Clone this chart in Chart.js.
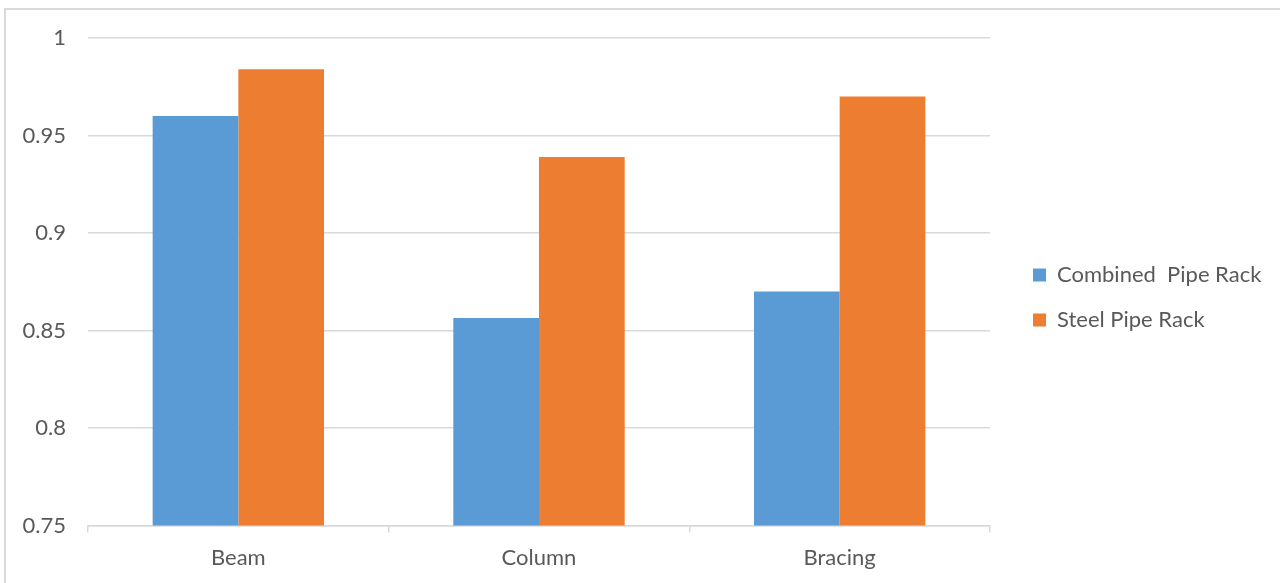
<!DOCTYPE html>
<html>
<head>
<meta charset="utf-8">
<script src="https://cdn.jsdelivr.net/npm/chart.js@4/dist/chart.umd.min.js"></script>
<style>
  html, body { margin: 0; padding: 0; background: #ffffff; }
  #wrap { position: relative; width: 1280px; height: 583px; overflow: hidden; }
  #frame { position: absolute; left: 4px; top: 8px; width: 1400px; height: 700px;
           border-left: 2px solid #d9d9d9; border-top: 2px solid #d9d9d9; }
  canvas { position: absolute; left: 0; top: 0; }
</style>
</head>
<body>
<div id="wrap">
  <div id="frame"></div>
  <canvas id="c" width="1280" height="583"></canvas>
</div>
<script>
const categories = ['Beam', 'Column', 'Bracing'];
const combinedPipeRack = [0.960, 0.8565, 0.870];
const steelPipeRack = [0.984, 0.939, 0.970];
const seriesNames = ['Combined  Pipe Rack', 'Steel Pipe Rack'];
const yTickLabels = ['0.75', '0.8', '0.85', '0.9', '0.95', '1'];

const FONT = 'Lato';
const TEXT = '#595959';
const GRID = '#d9d9d9';

const legendWidthPlugin = {
  id: 'legendWidth',
  beforeLayout(chart) {
    const lg = chart.legend;
    if (lg && !lg._patched) {
      const orig = lg.fit;
      lg.fit = function () {
        orig.call(this);
        this.width = 270;
        if (this.columnSizes && this.columnSizes[0]) this.columnSizes[0].height += 26;
      };
      lg._patched = true;
    }
  }
};

new Chart(document.getElementById('c'), {
  type: 'bar',
  data: {
    labels: categories,
    datasets: [
      { label: seriesNames[0], data: combinedPipeRack, backgroundColor: '#5B9BD5', borderWidth: 0 },
      { label: seriesNames[1], data: steelPipeRack, backgroundColor: '#ED7D31', borderWidth: 0 }
    ]
  },
  options: {
    responsive: false,
    animation: false,
    devicePixelRatio: 1,
    layout: { padding: { top: 38, bottom: 0, left: 0, right: 0 } },
    datasets: { bar: { categoryPercentage: 0.57, barPercentage: 1.0 } },
    scales: {
      x: {
        grid: { display: true, drawOnChartArea: false, offset: true, tickLength: 7, color: GRID, lineWidth: 1.5 },
        border: { display: true, color: GRID, width: 1.5 },
        ticks: { color: TEXT, font: { family: FONT, size: 22 }, padding: 12 }
      },
      y: {
        min: 0.75, max: 1,
        afterFit(s) { s.width = 88; },
        afterBuildTicks(s) {
          s.ticks = yTickLabels.map(t => ({ value: parseFloat(t) }));
        },
        grid: { color: GRID, lineWidth: 1.5, drawTicks: false },
        border: { display: false },
        ticks: {
          color: TEXT, font: { family: FONT, size: 22 }, padding: 22,
          callback: (v, i) => yTickLabels[i]
        }
      },
      y2: {
        position: 'right',
        display: true,
        afterFit(s) { s.width = 20; },
        grid: { display: false },
        border: { display: false },
        ticks: { display: false }
      }
    },
    plugins: {
      legend: {
        position: 'right',
        align: 'center',
        labels: {
          boxWidth: 13, boxHeight: 13, padding: 23, color: TEXT,
          font: { family: FONT, size: 22 }
        }
      },
      tooltip: { enabled: false }
    }
  },
  plugins: [legendWidthPlugin]
});
</script>
</body>
</html>
